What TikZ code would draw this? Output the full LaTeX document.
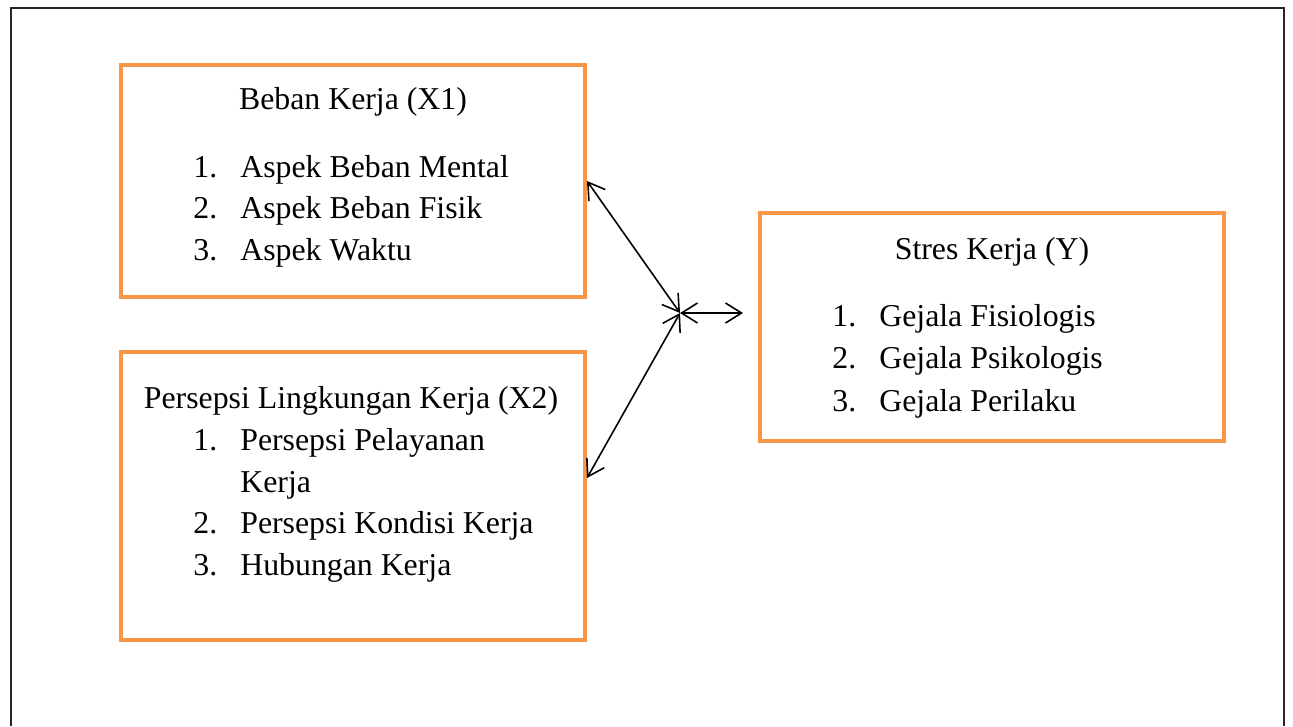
\documentclass[tikz,border=0pt]{standalone}
\usepackage{fontspec}
\setmainfont{Liberation Serif}
\usetikzlibrary{arrows.meta, calc}
\definecolor{boxOrange}{HTML}{F79646}
\newcommand{\litem}[5]{%
  \node[itemtxt] (#1num) at (#4, #5) {#2};
  \node[itemtxt] (#1) at (#4+47, #5) {#3};%
}

\begin{document}
\begin{tikzpicture}[x=0.02cm, y=-0.02cm,
  obox/.style={draw=boxOrange, line width=0.08cm, inner sep=0pt},
  itemtxt/.style={anchor=base west, inner sep=0pt, font=\fontsize{18.1}{22}\selectfont},
  ttl/.style={anchor=base, inner sep=0pt, font=\fontsize{18.1}{22}\selectfont},
  link/.style={{Straight Barb[length=0.32cm,width=0.4cm]}-{Straight Barb[length=0.32cm,width=0.4cm]}, line width=0.9pt}]
\useasboundingbox (0,0) rectangle (1293,726);

% outer frame
\draw[black!85, line width=1.1pt] (11,726) -- (11,8) -- (1284,8) -- (1284,726);

% --- BOXES ---
\node[obox, minimum width=0.02cm*464, minimum height=0.02cm*232] (beban) at (353,181) {};
\node[obox, minimum width=0.02cm*464, minimum height=0.02cm*288] (persepsi) at (353,496) {};
\node[obox, minimum width=0.02cm*464, minimum height=0.02cm*228] (stres) at (992,327) {};

% Beban Kerja (X1)
\node[ttl] (bebanT) at (353,110) {Beban Kerja (X1)};
\litem{bA}{1.}{Aspek Beban Mental}{193}{177}
\litem{bB}{2.}{Aspek Beban Fisik}{193}{218}
\litem{bC}{3.}{Aspek Waktu}{193}{260}

% Persepsi Lingkungan Kerja (X2)
\node[ttl] (persepsiT) at (351,408) {Persepsi Lingkungan Kerja (X2)};
\litem{pA}{1.}{Persepsi Pelayanan}{193}{450}
\node[itemtxt] (pAcont) at (240,492) {Kerja};
\litem{pB}{2.}{Persepsi Kondisi Kerja}{193}{533}
\litem{pC}{3.}{Hubungan Kerja}{193}{575}

% Stres Kerja (Y)
\node[ttl] (stresT) at (992,259) {Stres Kerja (Y)};
\litem{sA}{1.}{Gejala Fisiologis}{832}{326}
\litem{sB}{2.}{Gejala Psikologis}{832}{368}
\litem{sC}{3.}{Gejala Perilaku}{832}{411}

% --- ARROWS ---
\coordinate (hub) at (680,313);
\coordinate (stresIn) at ($(hub -| stres.west)+(-15,0)$);
\draw[link] (beban.east) -- (hub);
\draw[link] ([yshift=0.36cm]persepsi.east) -- (hub);
\draw[link] (hub) -- (stresIn);

\end{tikzpicture}
\end{document}
